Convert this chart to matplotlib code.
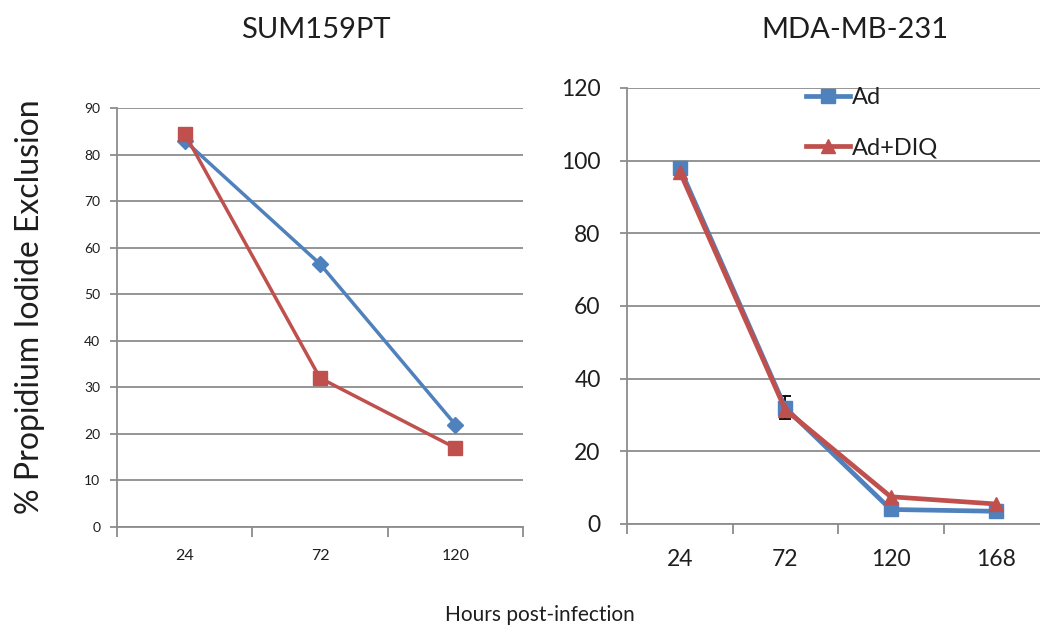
import matplotlib
matplotlib.use("Agg")
import matplotlib.pyplot as plt
import numpy as np

plt.rcParams['font.family'] = ['Lato', 'DejaVu Sans']

# SUM159PT panel
sum_hours = ["24", "72", "120"]
sum_ad = [83, 56.5, 22]
sum_ad_diq = [84.5, 32, 17]

# MDA-MB-231 panel
mda_hours = ["24", "72", "120", "168"]
mda_ad = [98, 32, 4, 3.5]
mda_ad_err = [0, 3.2, 0, 0]
mda_ad_diq = [97, 31.5, 7.5, 5.5]

BLUE = "#4F81BD"
RED = "#C0504D"
GRID = "#8C8C8C"
TEXT = "#1E1E1E"

W, H = 1040, 627
fig = plt.figure(figsize=(W / 100, H / 100), dpi=100)


def px_rect(x0, y_top, x1, y_bot):
    return [x0 / W, 1 - y_bot / H, (x1 - x0) / W, (y_bot - y_top) / H]


def style_axes(ax, ncat, ymax, ystep, yfs, xfs, xpad, ypad):
    ax.set_xlim(0, ncat)
    ax.set_ylim(0, ymax)
    ax.set_yticks(np.arange(0, ymax + 1, ystep))
    ax.yaxis.grid(True, color=GRID, linewidth=1.3)
    ax.set_axisbelow(True)
    for s in ("top", "right"):
        ax.spines[s].set_visible(False)
    for s in ("left", "bottom"):
        ax.spines[s].set_color(GRID)
        ax.spines[s].set_linewidth(1.3)
    ax.set_xticks(np.arange(0, ncat + 1))
    ax.set_xticklabels([])
    ax.set_xticks(np.arange(ncat) + 0.5, minor=True)
    ax.tick_params(axis="x", which="major", length=7, width=1.3, color=GRID)
    ax.tick_params(axis="x", which="minor", length=0, labelsize=xfs,
                   labelcolor=TEXT, pad=xpad)
    ax.tick_params(axis="y", length=5, width=1.3, color=GRID,
                   labelsize=yfs, labelcolor=TEXT, pad=ypad)


# Left panel
ax1 = fig.add_axes(px_rect(117, 108, 523, 527))
style_axes(ax1, 3, 90, 10, 10, 11.5, 16, 7)
ax1.set_xticklabels(sum_hours, minor=True)
x1 = np.arange(len(sum_hours)) + 0.5
ax1.plot(x1, sum_ad, color=BLUE, lw=2.5, marker="D", ms=8.5, clip_on=False, zorder=3)
ax1.plot(x1, sum_ad_diq, color=RED, lw=2.5, marker="s", ms=10.5, clip_on=False, zorder=4)

# Right panel
ax2 = fig.add_axes(px_rect(627, 88, 1049, 524))
style_axes(ax2, 4, 120, 20, 16.5, 16.5, 18, 14)
ax2.set_xticklabels(mda_hours, minor=True)
x2 = np.arange(len(mda_hours)) + 0.5
ax2.errorbar(x2, mda_ad, yerr=mda_ad_err, fmt="none", ecolor="black",
             elinewidth=1.3, capsize=4, capthick=1.3, zorder=2)
ax2.plot(x2, mda_ad, color=BLUE, lw=3.4, marker="s", ms=10.5, clip_on=False,
         zorder=3, label="Ad")
ax2.plot(x2, mda_ad_diq, color=RED, lw=3.4, marker="^", ms=10, clip_on=False,
         zorder=4, label="Ad+DIQ")
leg = ax2.legend(loc="upper left", bbox_to_anchor=(806 / W, 1 - 87 / H),
                 bbox_transform=fig.transFigure, frameon=False, fontsize=17,
                 handlelength=1.85, handletextpad=0.1, labelspacing=1.25,
                 borderpad=0, borderaxespad=0, labelcolor=TEXT)

# Panel titles and shared axis labels
fig.text(316 / W, 1 - 30 / H, "SUM159PT", ha="center", va="center",
         fontsize=21, color=TEXT)
fig.text(855 / W, 1 - 30 / H, "MDA-MB-231", ha="center", va="center",
         fontsize=21, color=TEXT)
fig.text(30 / W, 1 - 307 / H, "% Propidium Iodide Exclusion", rotation=90,
         ha="center", va="center", fontsize=23, color=TEXT)
fig.text(540 / W, 1 - 615 / H, "Hours post-infection", ha="center",
         va="center", fontsize=15, color=TEXT)

fig.savefig("out.png", dpi=100, facecolor="white")
